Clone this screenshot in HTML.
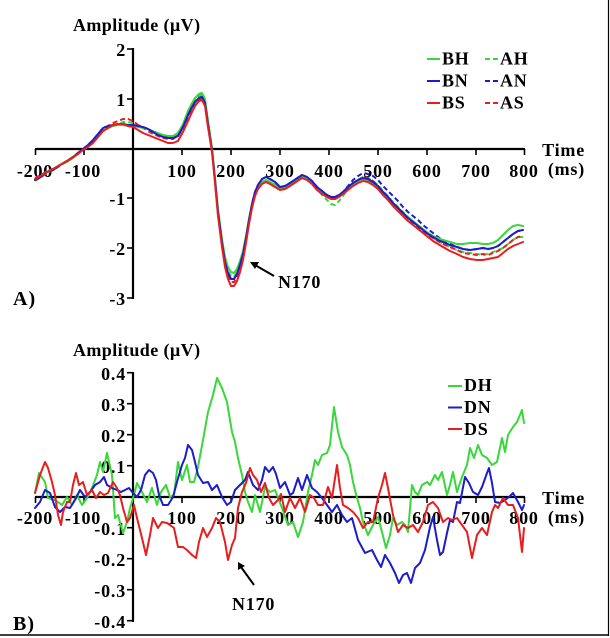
<!DOCTYPE html>
<html>
<head>
<meta charset="utf-8">
<style>
html,body{margin:0;padding:0;background:#fff;}
svg{display:block;}
text{font-family:"Liberation Serif","Times New Roman",serif;font-weight:bold;font-size:18px;fill:#000;letter-spacing:0.8px;}
.c{fill:none;stroke-width:2;stroke-linejoin:round;stroke-linecap:round;}
.d{stroke-dasharray:5,3;stroke-linecap:butt;}
.g{stroke:#39d739;}
.b{stroke:#1c1ccc;}
.r{stroke:#e61e1e;}
.ax{stroke:#000;stroke-width:2.2;fill:none;}
.tk{stroke:#000;stroke-width:1.6;}
</style>
</head>
<body>
<svg width="610" height="638" viewBox="0 0 610 638" xmlns="http://www.w3.org/2000/svg">
<rect x="0" y="0" width="610" height="638" fill="#fff"/>
<!-- frame -->
<line x1="608.5" y1="0" x2="608.5" y2="636" stroke="#000" stroke-width="1.2"/>
<line x1="0" y1="635" x2="609" y2="635" stroke="#000" stroke-width="1.6"/>

<!-- ===== Panel A ===== -->
<text x="73" y="31" style="letter-spacing:0.4px">Amplitude (µV)</text>
<!-- y axis -->
<line class="ax" x1="133" y1="48" x2="133" y2="299"/>
<g class="tk">
<line x1="127" y1="49" x2="133" y2="49"/>
<line x1="127" y1="99" x2="133" y2="99"/>
<line x1="127" y1="198" x2="133" y2="198"/>
<line x1="127" y1="248" x2="133" y2="248"/>
<line x1="127" y1="298" x2="133" y2="298"/>
</g>
<g text-anchor="end">
<text x="126" y="56">2</text>
<text x="126" y="106">1</text>
<text x="126" y="205">-1</text>
<text x="126" y="255">-2</text>
<text x="126" y="305">-3</text>
</g>
<!-- x axis -->
<line class="ax" x1="35" y1="149" x2="525" y2="149"/>
<g class="tk">
<line x1="35.5" y1="149" x2="35.5" y2="155"/>
<line x1="84" y1="149" x2="84" y2="155"/>
<line x1="182" y1="149" x2="182" y2="155"/>
<line x1="231" y1="149" x2="231" y2="155"/>
<line x1="280" y1="149" x2="280" y2="155"/>
<line x1="329" y1="149" x2="329" y2="155"/>
<line x1="378" y1="149" x2="378" y2="155"/>
<line x1="427" y1="149" x2="427" y2="155"/>
<line x1="476" y1="149" x2="476" y2="155"/>
<line x1="524.5" y1="149" x2="524.5" y2="155"/>
</g>
<g text-anchor="middle">
<text x="35" y="177">-200</text>
<text x="83" y="177">-100</text>
<text x="182" y="177">100</text>
<text x="231" y="177">200</text>
<text x="280" y="177">300</text>
<text x="329" y="177">400</text>
<text x="378" y="177">500</text>
<text x="427" y="177">600</text>
<text x="476" y="177">700</text>
<text x="524" y="177">800</text>
</g>
<text x="585" y="156" text-anchor="end">Time</text>
<text x="585" y="175" text-anchor="end">(ms)</text>

<!-- curves A -->
<polyline class="c d g" points="35,181 41,177 47,173 53,170 60,166 67,161 73,157 78,153 83,149 88,145 93,141 98,136 103,131 108,128 113,126 118,124 123,122 128,122 133,123 138,125 143,127 148,129 153,132 158,134 163,136 168,137 173,137 178,134 183,126 188,113 192,105 195,100 199,96 202,95 205,101 208,122 212,149 215,179 218,211 222,241 225,260 228,271 231,276 234,277 237,272 240,264 243,253 246,238 249,220 252,205 255,194 258,188 262,183 266,181 270,183 275,185 280,189 285,188 290,185 296,181 302,178 307,179 312,183 317,189 322,195 327,200 331,204 335,205 339,201 343,196 348,189 353,184 358,180 363,177 368,178 373,181 378,185 383,191 388,196 393,202 398,207 403,212 408,217 413,221 418,226 423,230 428,234 433,238 438,241 443,244 450,247 457,250 463,252 470,253 477,254 483,255 488,254 493,252 498,250 503,248 508,244 513,240 518,237 523,237"/>
<polyline class="c d b" points="35,180 41,177 47,172 53,170 60,165 67,161 73,157 78,153 83,149 88,145 93,140 98,134 103,128 108,126 113,125 118,124 123,124 128,125 133,125 138,126 143,127 148,129 153,132 158,135 163,137 168,138 173,138 178,136 183,127 188,115 192,107 195,102 199,98 202,97 205,103 208,124 212,150 215,180 218,212 222,243 225,262 228,273 231,279 234,279 237,274 240,265 243,254 246,238 249,220 252,204 255,192 258,185 262,179 266,177 270,179 275,182 280,187 285,186 290,183 296,179 302,175 307,177 312,181 317,187 322,191 327,195 331,197 335,197 339,195 343,192 348,186 353,180 358,176 363,173 368,174 373,176 378,180 383,186 388,191 393,196 398,201 403,207 408,212 413,216 418,220 423,225 428,229 433,233 438,237 443,240 450,244 457,247 463,249 470,250 477,249 483,248 488,249 493,248 498,246 503,242 508,238 513,234 518,231 523,230"/>
<polyline class="c d r" points="35,178 41,175 47,171 53,169 60,165 67,161 73,157 78,153 83,149 88,145 93,141 98,136 103,130 108,126 113,123 118,121 123,119 128,119 133,121 138,125 143,128 148,131 153,134 158,136 163,138 168,139 173,139 178,136 183,128 188,117 192,109 195,104 199,100 202,99 205,105 208,126 212,151 215,182 218,214 222,245 225,265 228,276 231,282 234,282 237,277 240,268 243,257 246,240 249,222 252,206 255,194 258,187 262,182 266,180 270,182 275,185 280,189 285,188 290,185 296,181 302,177 307,179 312,183 317,189 322,193 327,197 331,199 335,199 339,197 343,193 348,188 353,183 358,180 363,177 368,178 373,181 378,186 383,192 388,197 393,203 398,208 403,213 408,218 413,223 418,227 423,231 428,235 433,238 438,241 443,244 450,247 457,250 463,253 470,254 477,255 483,254 488,255 493,253 498,251 503,248 508,244 513,240 518,237 523,236"/>
<polyline class="c g" points="35,179 41,176 47,172 53,169 60,165 67,162 73,158 78,154 83,149 88,146 93,142 98,137 103,131 108,128 113,126 118,125 123,125 128,126 133,126 138,127 143,128 148,129 153,131 158,133 163,135 168,136 173,136 178,133 183,124 188,111 192,103 195,98 199,94 202,93 205,99 208,121 212,148 215,178 218,209 222,239 225,257 228,267 231,272 234,273 237,269 240,261 243,251 246,236 249,219 252,204 255,194 258,188 262,182 266,180 270,182 275,185 280,189 285,188 290,185 296,181 302,177 307,178 312,182 317,187 322,192 327,196 331,198 335,198 339,196 343,192 348,187 353,184 358,181 363,179 368,180 373,183 378,187 383,192 388,197 393,203 398,208 403,213 408,217 413,221 418,225 423,229 428,233 433,236 438,238 443,240 450,242 457,244 463,244 470,243 477,243 483,244 488,244 493,243 498,240 503,235 508,230 513,226 518,225 523,226"/>
<polyline class="c b" points="35,180 41,177 47,172 53,170 60,165 67,161 73,157 78,153 83,149 88,145 93,140 98,134 103,128 108,126 113,125 118,124 123,124 128,125 133,125 138,126 143,127 148,129 153,132 158,135 163,137 168,138 173,138 178,136 183,127 188,115 192,107 195,102 199,98 202,97 205,103 208,124 212,150 215,180 218,212 222,243 225,262 228,273 231,279 234,279 237,274 240,265 243,254 246,238 249,220 252,204 255,192 258,185 262,179 266,177 270,179 275,182 280,187 285,186 290,183 296,179 302,175 307,177 312,181 317,187 322,191 327,195 331,197 335,197 339,195 343,192 348,187 353,183 358,180 363,178 368,179 373,182 378,186 383,192 388,197 393,203 398,208 403,213 408,218 413,222 418,226 423,230 428,234 433,237 438,240 443,242 450,245 457,247 463,249 470,250 477,249 483,248 488,249 493,248 498,246 503,242 508,238 513,234 518,231 523,230"/>
<polyline class="c r" points="35,179 41,176 47,172 53,169 60,165 67,161 73,157 78,154 83,150 88,147 93,143 98,137 103,131 108,128 113,125 118,124 123,124 128,126 133,127 138,130 143,133 148,135 153,137 158,139 163,141 168,143 173,143 178,141 183,132 188,121 192,112 195,106 199,101 202,100 205,106 208,127 212,152 215,183 218,216 222,247 225,267 228,279 231,286 234,286 237,281 240,272 243,260 246,243 249,224 252,208 255,196 258,189 262,184 266,182 270,184 275,187 280,190 285,189 290,186 296,182 302,178 307,180 312,184 317,190 322,194 327,197 331,199 335,199 339,197 343,194 348,190 353,186 358,183 363,181 368,182 373,185 378,189 383,195 388,200 393,206 398,211 403,216 408,221 413,225 418,229 423,233 428,237 433,241 438,244 443,247 450,251 457,254 463,257 470,259 477,260 483,260 488,259 493,258 498,257 503,253 508,249 513,246 518,244 523,242"/>

<!-- legend A -->
<line class="c g" x1="427" y1="59" x2="440" y2="59" style="stroke-linecap:butt"/>
<line class="c b" x1="427" y1="81" x2="440" y2="81" style="stroke-linecap:butt"/>
<line class="c r" x1="427" y1="103" x2="440" y2="103" style="stroke-linecap:butt"/>
<text x="442" y="64.5">BH</text>
<text x="442" y="86.5">BN</text>
<text x="442" y="108.5">BS</text>
<line class="c d g" x1="485" y1="59" x2="498" y2="59"/>
<line class="c d b" x1="485" y1="81" x2="498" y2="81"/>
<line class="c d r" x1="485" y1="103" x2="498" y2="103"/>
<text x="500" y="64.5">AH</text>
<text x="500" y="86.5">AN</text>
<text x="500" y="108.5">AS</text>

<!-- N170 A -->
<line x1="274" y1="276" x2="255" y2="265" stroke="#000" stroke-width="2"/>
<polygon points="250,262 259,262 255,269" fill="#000"/>
<text x="278" y="288">N170</text>
<text x="13" y="305" style="font-size:20px;letter-spacing:1px">A)</text>

<!-- ===== Panel B ===== -->
<text x="73" y="356" style="letter-spacing:0.4px">Amplitude (µV)</text>
<line class="ax" x1="133" y1="372" x2="133" y2="622"/>
<g class="tk">
<line x1="127" y1="372.7" x2="133" y2="372.7"/>
<line x1="127" y1="403.7" x2="133" y2="403.7"/>
<line x1="127" y1="434.7" x2="133" y2="434.7"/>
<line x1="127" y1="465.7" x2="133" y2="465.7"/>
<line x1="127" y1="527.7" x2="133" y2="527.7"/>
<line x1="127" y1="558.7" x2="133" y2="558.7"/>
<line x1="127" y1="589.7" x2="133" y2="589.7"/>
<line x1="127" y1="620.7" x2="133" y2="620.7"/>
</g>
<g text-anchor="end">
<text x="126" y="380">0.4</text>
<text x="126" y="411">0.3</text>
<text x="126" y="442">0.2</text>
<text x="126" y="473">0.1</text>
<text x="126" y="535">-0.1</text>
<text x="126" y="566">-0.2</text>
<text x="126" y="597">-0.3</text>
<text x="126" y="628">-0.4</text>
</g>
<line class="ax" x1="35" y1="497" x2="525" y2="497"/>
<g class="tk">
<line x1="35.5" y1="497" x2="35.5" y2="503"/>
<line x1="84" y1="497" x2="84" y2="503"/>
<line x1="182" y1="497" x2="182" y2="503"/>
<line x1="231" y1="497" x2="231" y2="503"/>
<line x1="280" y1="497" x2="280" y2="503"/>
<line x1="329" y1="497" x2="329" y2="503"/>
<line x1="378" y1="497" x2="378" y2="503"/>
<line x1="427" y1="497" x2="427" y2="503"/>
<line x1="476" y1="497" x2="476" y2="503"/>
<line x1="524.5" y1="497" x2="524.5" y2="503"/>
</g>
<g text-anchor="middle">
<text x="35" y="524">-200</text>
<text x="83" y="524">-100</text>
<text x="182" y="524">100</text>
<text x="231" y="524">200</text>
<text x="280" y="524">300</text>
<text x="329" y="524">400</text>
<text x="378" y="524">500</text>
<text x="427" y="524">600</text>
<text x="476" y="524">700</text>
<text x="524" y="524">800</text>
</g>
<text x="585" y="504" text-anchor="end">Time</text>
<text x="585" y="523" text-anchor="end">(ms)</text>

<!-- curves B -->
<polyline class="c g" points="35,493 39,473 45,482 48,498 55,500 62,505 67,497 72,505 77,495 82,505 87,498 92,488 97,475 100,462 103,472 107,453 112,475 115,518 118,515 123,533 127,522 130,508 134,495 137,483 142,492 147,502 152,488 157,505 161,492 166,485 170,497 174,495 178,462 182,480 187,465 190,482 194,482 198,467 203,440 208,412 213,395 217,378 222,388 227,402 232,432 235,442 238,458 242,475 245,492 248,502 252,512 255,495 260,512 265,487 270,492 275,490 282,508 288,525 293,522 298,537 303,522 308,492 312,475 315,460 318,465 322,455 327,453 330,445 334,407 338,432 342,447 347,455 350,465 353,482 357,498 360,508 363,522 368,535 373,525 378,517 382,532 386,548 390,535 393,518 397,525 402,522 405,525 408,532 412,485 415,492 418,495 422,485 427,482 430,485 435,475 438,480 442,472 447,495 450,485 453,472 457,492 462,477 467,465 470,448 474,458 478,445 482,455 487,458 492,465 497,462 502,438 505,452 508,435 513,427 517,422 522,410 524,423"/>
<polyline class="c b" points="35,508 40,502 45,490 50,493 55,507 60,512 65,507 70,508 75,500 80,490 85,497 90,492 95,485 100,482 104,477 107,485 112,488 117,490 121,492 125,490 129,488 133,493 137,497 141,490 145,475 149,470 153,473 156,480 159,495 163,505 168,505 173,497 177,482 182,465 185,458 188,445 192,450 195,462 198,475 203,483 208,482 212,490 217,485 222,497 227,505 231,502 235,490 240,485 245,480 248,472 253,485 258,490 262,480 265,467 269,472 273,467 276,474 280,488 285,482 290,495 293,493 298,478 302,490 307,475 312,488 317,492 322,498 327,505 332,512 337,505 342,515 347,522 352,518 358,540 365,553 372,550 377,560 381,567 385,555 390,563 395,573 399,583 403,575 407,573 411,583 415,568 420,563 425,550 430,527 433,517 437,540 440,555 443,552 447,533 450,520 453,522 457,502 460,503 465,477 469,483 473,492 478,495 482,487 487,473 489,468 492,483 495,502 500,503 505,500 509,497 513,493 518,502 522,510 524,505"/>
<polyline class="c r" points="35,493 40,475 45,462 48,468 52,482 55,495 58,515 61,525 63,512 67,502 70,502 73,485 76,473 79,485 83,482 87,495 92,490 96,498 100,492 104,495 108,493 113,482 117,488 120,495 123,508 127,522 130,518 134,505 137,518 142,538 146,555 150,535 153,518 158,528 162,522 167,523 170,525 174,528 178,547 183,547 187,550 192,555 196,558 199,542 203,528 207,537 212,528 216,518 220,522 225,542 228,560 232,545 235,538 238,508 242,492 246,483 250,468 253,475 257,480 261,492 265,483 269,498 273,505 278,500 281,494 285,512 290,498 295,508 300,498 305,512 310,495 314,498 318,505 323,505 328,487 332,498 337,465 340,488 343,505 348,508 353,512 358,518 363,528 368,522 373,522 378,498 382,485 385,473 388,488 393,515 398,532 403,525 408,528 413,525 418,532 423,522 428,505 433,502 438,508 443,522 448,518 452,520 457,518 462,525 467,532 472,558 477,535 482,528 487,535 492,512 495,505 498,508 503,498 508,505 513,505 518,518 522,552 524,528"/>

<!-- legend B -->
<line class="c g" x1="448" y1="386" x2="462" y2="386" style="stroke-linecap:butt"/>
<line class="c b" x1="448" y1="407.5" x2="462" y2="407.5" style="stroke-linecap:butt"/>
<line class="c r" x1="448" y1="429" x2="462" y2="429" style="stroke-linecap:butt"/>
<text x="464" y="391">DH</text>
<text x="464" y="413">DN</text>
<text x="464" y="435">DS</text>

<!-- N170 B -->
<line x1="254" y1="585" x2="241" y2="567" stroke="#000" stroke-width="2"/>
<polygon points="238,562 245,566 238,570" fill="#000"/>
<text x="232" y="610">N170</text>
<text x="13" y="630" style="font-size:20px;letter-spacing:1px">B)</text>
</svg>
</body>
</html>
